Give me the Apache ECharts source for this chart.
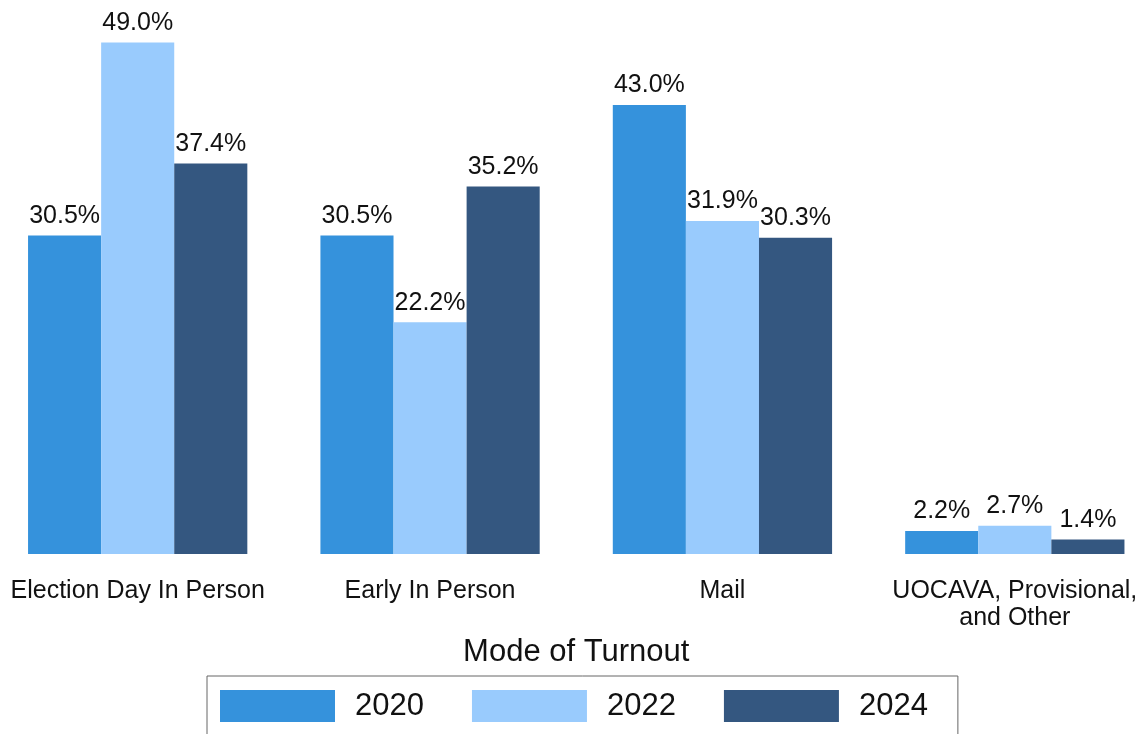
<!DOCTYPE html>
<html>
<head>
<meta charset="utf-8">
<script src="https://cdn.jsdelivr.net/npm/echarts@6/dist/echarts.min.js"></script>
<style>
  html, body { margin: 0; padding: 0; background: #fff; }
  #chart { width: 1143px; height: 734px; }
</style>
</head>
<body>
<div id="chart"></div>
<script>
const modes = ['Election Day In Person', 'Early In Person', 'Mail', 'UOCAVA, Provisional,\nand Other']
const years = ['2020', '2022', '2024']
const turnout2020 = [30.5, 30.5, 43.0, 2.2]
const turnout2022 = [49.0, 22.2, 31.9, 2.7]
const turnout2024 = [37.4, 35.2, 30.3, 1.4]
const colors = ['#3592dc', '#99cbfd', '#345780']

let chart = echarts.init(document.getElementById('chart'))

let barSeries = (name, data, color) => ({
    name: name,
    type: 'bar',
    data: data,
    barGap: 0,
    barCategoryGap: '25%',
    itemStyle: { color: color },
    label: {
        show: true,
        position: 'top',
        distance: 7,
        fontFamily: 'Liberation Sans',
        fontSize: 25,
        color: '#111',
        formatter: (p) => p.value.toFixed(1) + '%'
    }
})

chart.setOption({
    animation: false,
    grid: { left: -8.5, width: 1169.5, top: 32, bottom: 180, outerBoundsMode: 'none', containLabel: false },
    legend: {
        data: years,
        left: 207,
        top: 676,
        itemWidth: 115,
        itemHeight: 32,
        itemGap: 48,
        padding: [14, 30, 14, 13],
        borderColor: '#666',
        borderWidth: 1,
        icon: 'rect',
        textStyle: {
            fontFamily: 'Liberation Sans',
            fontSize: 31,
            color: '#111',
            padding: [0, 0, 0, 15]
        }
    },
    xAxis: {
        type: 'category',
        data: modes,
        axisLine: { show: false },
        axisTick: { show: false },
        axisLabel: {
            margin: 24,
            fontFamily: 'Liberation Sans',
            fontSize: 25,
            lineHeight: 27,
            color: '#111',
            interval: 0
        },
        name: 'Mode of Turnout',
        nameLocation: 'middle',
        nameGap: 76,
        nameTextStyle: {
            fontFamily: 'Liberation Sans',
            fontSize: 31,
            color: '#111'
        }
    },
    yAxis: {
        type: 'value',
        min: 0,
        max: 50,
        show: false
    },
    series: [
        barSeries(years[0], turnout2020, colors[0]),
        barSeries(years[1], turnout2022, colors[1]),
        barSeries(years[2], turnout2024, colors[2])
    ]
})
</script>
</body>
</html>
